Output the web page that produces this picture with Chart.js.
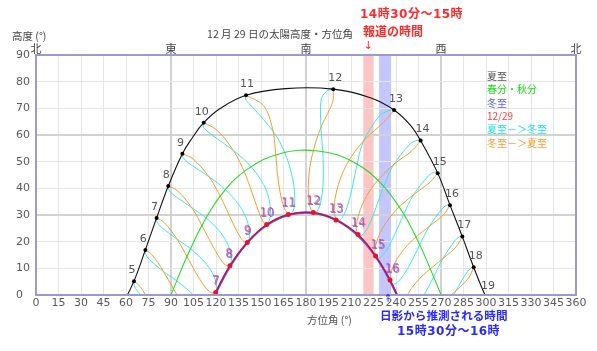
<!DOCTYPE html>
<html>
<head>
<meta charset="utf-8">
<script src="https://cdn.jsdelivr.net/npm/chart.js@4.4.1/dist/chart.umd.min.js"></script>
<style>
  body { margin: 0; background: #fff; }
</style>
</head>
<body>
<canvas id="sunChart" width="597" height="351"></canvas>
<script>
// 方位角 (°) / 高度 (°)

// 夏至 hourly points
const summerHours = [5, 6, 7, 8, 9, 10, 11, 12, 13, 14, 15, 16, 17, 18, 19];
const summerAz  = [65.3, 72.9, 80.4, 88.2, 97.6, 111.8, 140.0, 198.2, 238.7, 256.4, 267.8, 276.0, 284.2, 291.8, 300.0];
const summerAlt = [5.2, 16.9, 28.9, 40.9, 53.0, 64.6, 74.9, 77.2, 69.4, 57.9, 45.7, 33.7, 21.9, 10.4, -0.8];
// 夏至 path (hourly + half hours near noon)
const summerPath = [[56.1,-5.3],[65.3,5.2],[72.9,16.9],[80.4,28.9],[88.2,40.9],[97.6,53.0],[104.0,58.8],[111.8,64.6],[123.0,70.0],
  [140.0,74.9],[166.3,77.4],[198.2,77.2],[222.9,74.0],[238.7,69.4],[249.4,63.8],[256.4,57.9],[267.8,45.7],[276.0,33.7],
  [284.2,21.9],[291.8,10.4],[300.0,-0.8],[309.5,-10.8]];

// 春分・秋分
const equinoxPath = [[84.0,-8.4],[92.7,3.8],[101.8,15.9],[112.0,27.5],[124.5,38.3],[141.0,47.2],[162.7,53.0],[188.0,54.0],
  [211.5,49.9],[229.9,41.9],[243.7,31.7],[254.6,20.3],[263.9,8.4],[272.8,-3.8]];

// 冬至
const winterPath = [[112.0,-9.5],[120.5,1.4],[130.0,11.3],[141.2,19.9],[154.4,26.4],[169.5,30.2],[185.4,30.7],[200.9,27.9],
  [214.7,22.2],[226.6,14.3],[236.6,4.7],[245.4,-5.9]];

// 12/29
const dec29Hours = [7, 8, 9, 10, 11, 12, 13, 14, 15, 16];
const dec29Az  = [119.8, 129.3, 140.9, 153.8, 168.2, 184.9, 200.0, 214.7, 226.4, 236.0];
const dec29Alt = [0.9, 11.0, 19.7, 26.4, 30.2, 30.9, 28.1, 22.7, 14.6, 5.6];
const dec29Rise = [111.4, -9.8];
const dec29Set = [245.0, -5.2];

// 夏至->冬至 (same clock hour)
const toWinter5  = [[65.3,5.2],[65.4,3.6],[67.7,1.4],[77.2,-3.6]];
const toWinter6  = [[72.9,16.9],[73.1,15.4],[75.6,13.3],[85.7,8.5],[93.8,5.3],[102.0,1.6],[107.7,-1.7]];
const toWinter7  = [[80.4,28.9],[80.7,27.4],[83.6,25.4],[94.6,20.7],[103.0,17.4],[111.1,13.2],[116.4,9.4],[119.8,5.3],[120.5,2.7],[119.8,0.9]];
const toWinter8  = [[88.2,40.9],[88.6,39.4],[92.0,37.4],[104.3,32.6],[113.4,28.9],[121.8,24.3],[126.9,20.0],[129.9,15.5],[130.2,12.8],[129.3,11.0]];
const toWinter9  = [[97.6,53.0],[98.0,51.5],[101.9,49.4],[116.2,44.0],[126.3,39.5],[135.0,34.0],[139.9,29.1],[142.3,24.2],[142.2,21.3],[140.9,19.7]];
const toWinter10 = [[111.8,64.6],[111.6,63.0],[116.0,60.6],[132.5,53.8],[143.4,48.1],[151.7,41.5],[155.4,35.8],[156.4,30.6],[155.4,27.8],[153.8,26.4]];
const toWinter11 = [[140.0,74.9],[139.8,73.3],[144.4,70.4],[158.6,61.0],[165.8,53.5],[170.5,45.1],[172.3,38.9],[172.3,33.6],[171.0,31.1],[168.2,30.2]];
const toWinter12 = [[198.2,77.2],[193.7,76.4],[190.1,73.3],[190.0,62.3],[191.2,53.8],[191.6,44.9],[190.9,38.5],[189.2,33.5],[187.2,31.3],[184.9,30.9]];
const toWinter13 = [[238.7,69.4],[235.3,69.2],[228.8,67.1],[218.0,57.2],[214.1,49.0],[210.9,40.5],[208.2,34.4],[205.2,29.9],[202.7,28.1],[200.0,28.1]];
const toWinter14 = [[256.4,57.9],[254.6,58.1],[249.3,56.6],[237.6,48.1],[231.8,40.7],[226.7,32.8],[222.9,27.3],[219.1,23.4],[216.5,22.1],[214.7,22.7]];
const toWinter15 = [[267.8,45.7],[266.0,46.1],[261.8,44.8],[251.3,37.2],[245.2,30.3],[239.4,23.1],[235.1,18.1],[230.9,14.7],[228.2,13.9],[226.4,14.6]];
const toWinter16 = [[276.0,33.7],[274.7,33.9],[271.2,32.6],[261.8,25.3],[255.8,18.8],[249.9,12.1],[245.2,7.6],[240.9,4.7],[238.1,4.1],[236.0,5.6]];
const toWinter17 = [[284.2,21.9],[282.5,21.9],[279.4,20.5],[270.8,13.2],[265.1,6.8],[259.0,0.3],[254.2,-3.9]];
const toWinter18 = [[291.8,10.4],[290.3,10.2],[287.5,8.7],[279.5,1.1],[273.8,-5.3]];

// 冬至->夏至 (same clock hour)
const toSummer5  = [[76.1,-2.9],[69.5,3.1],[65.3,5.2]];
const toSummer6  = [[96.1,-2.0],[90.4,3.5],[84.6,9.2],[77.5,15.0],[72.9,16.9]];
const toSummer7  = [[119.8,0.9],[118.3,0.7],[115.7,1.2],[110.9,4.4],[105.0,9.9],[99.5,15.7],[93.4,21.5],[85.6,27.1],[80.4,28.9]];
const toSummer8  = [[129.3,11.0],[127.8,10.9],[125.3,11.7],[120.8,15.4],[115.0,21.3],[109.4,27.4],[103.0,33.4],[94.2,39.1],[88.2,40.9]];
const toSummer9  = [[140.9,19.7],[139.3,19.8],[136.9,21.1],[132.6,25.4],[127.2,31.9],[121.5,38.5],[114.7,44.8],[104.7,51.0],[97.6,53.0]];
const toSummer10 = [[153.8,26.4],[152.4,26.8],[150.4,28.5],[147.0,33.5],[142.6,40.7],[137.6,47.8],[131.0,54.7],[120.4,61.9],[111.8,64.6]];
const toSummer11 = [[168.2,30.2],[167.5,30.8],[165.4,32.8],[162.8,38.3],[160.8,46.3],[159.6,54.2],[157.7,62.4],[151.7,71.0],[140.0,74.9]];
const toSummer12 = [[184.9,30.9],[183.7,31.7],[182.2,34.1],[181.5,40.0],[182.6,48.1],[185.7,55.8],[190.5,63.6],[197.7,72.2],[198.2,77.2]];
const toSummer13 = [[200.0,28.1],[199.5,29.3],[198.8,31.8],[199.9,37.7],[204.0,45.2],[210.4,52.0],[219.4,58.4],[232.2,65.0],[238.7,69.4]];
const toSummer14 = [[214.7,22.7],[213.7,23.8],[213.7,26.4],[216.2,32.0],[222.0,38.6],[229.6,44.1],[239.1,49.2],[251.0,54.3],[256.4,57.9]];
const toSummer15 = [[226.4,14.6],[225.9,16.0],[226.4,18.6],[229.7,23.6],[236.2,29.3],[243.8,33.9],[252.6,38.0],[262.9,42.4],[267.8,45.7]];
const toSummer16 = [[236.0,5.6],[236.2,6.5],[237.0,9.0],[240.8,13.6],[247.5,18.6],[254.9,22.5],[263.0,26.1],[272.0,30.3],[276.0,33.7]];
const toSummer17 = [[245.1,-4.1],[246.2,-1.7],[250.3,2.5],[257.2,7.0],[264.4,10.5],[272.0,14.0],[280.2,18.1],[284.2,21.9]];
const toSummer18 = [[273.2,-1.7],[280.6,1.9],[288.4,6.4],[291.8,10.4]];

// time bands (azimuth)
const reportedBand = [218.2, 225.3];   // 14時30分～15時
const shadowBand = [228.7, 236.7];     // 15時30分～16時

// axis labels
const dirAz = [0, 90, 180, 270, 360];
const dirLabels = ['北', '東', '南', '西', '北'];
const legendLabels = ['夏至', '春分・秋分', '冬至', '12/29', '夏至－＞冬至', '冬至－＞夏至'];

const jp = '"Noto Sans CJK JP", sans-serif';
const num = '"DejaVu Sans", sans-serif';
const legendColors = ['#555555', '#11dd11', '#6060ff', '#ff4040', '#22e0e0', '#f0a030'];

const pts = arr => arr.map(([x, y]) => ({x, y}));
const curve = (arr, color, width, tension) => ({
  data: pts(arr), showLine: true, borderColor: color, borderWidth: width,
  pointRadius: 0, tension: tension, fill: false, clip: 0, xAxisID: 'x', yAxisID: 'y'
});

const toWinter = [toWinter5, toWinter6, toWinter7, toWinter8, toWinter9, toWinter10, toWinter11,
  toWinter12, toWinter13, toWinter14, toWinter15, toWinter16, toWinter17, toWinter18];
const toSummer = [toSummer5, toSummer6, toSummer7, toSummer8, toSummer9, toSummer10, toSummer11,
  toSummer12, toSummer13, toSummer14, toSummer15, toSummer16, toSummer17, toSummer18];

const summerPoints = summerAz.map((a, i) => [a, summerAlt[i]]);
const dec29Points = dec29Az.map((a, i) => [a, dec29Alt[i]]);

const datasets = [
  { data: pts(dec29Points), showLine: false, pointRadius: 2.5, pointBackgroundColor: '#e8102a', pointBorderWidth: 0, clip: 0, xAxisID: 'x', yAxisID: 'y' },
  curve([dec29Rise, ...dec29Points, dec29Set], '#c8103c', 1.5, 0.4),
  curve(winterPath, '#5a5aff', 2.2, 0.4),
  { data: pts(summerPoints), showLine: false, pointRadius: 2, pointBackgroundColor: '#000', pointBorderWidth: 0, clip: 0, xAxisID: 'x', yAxisID: 'y' },
  curve(summerPath, '#111', 1.1, 0.4),
  curve(equinoxPath, '#22dd22', 1.1, 0.4),
  ...toSummer.map(c => curve(c, '#f0a030', 1, 0.35)),
  ...toWinter.map(c => curve(c, '#40e6e6', 1, 0.35))
];

function txt(ctx, s, x, y, font, color, align) {
  ctx.font = font;
  ctx.fillStyle = color;
  ctx.textAlign = align || 'left';
  ctx.textBaseline = 'middle';
  ctx.fillText(s, x, y);
}

const overlay = {
  id: 'overlay',
  beforeDraw(chart) {
    const {ctx, chartArea: a, scales: {x}} = chart;
    ctx.save();
    ctx.fillStyle = '#fff';
    ctx.fillRect(0, 0, chart.width, chart.height);
    const r0 = x.getPixelForValue(reportedBand[0]), r1 = x.getPixelForValue(reportedBand[1]);
    const s0 = x.getPixelForValue(shadowBand[0]), s1 = x.getPixelForValue(shadowBand[1]);
    ctx.fillStyle = '#ffc4c4';
    ctx.fillRect(r0, a.top, r1 - r0, a.bottom - a.top);
    ctx.fillStyle = '#c6c6ff';
    ctx.fillRect(s0, a.top, s1 - s0, a.bottom - a.top);
    ctx.restore();
  },
  afterDatasetsDraw(chart) {
    const {ctx, chartArea: a, scales: {x, y}} = chart;
    ctx.save();
    // hour labels on summer path
    summerHours.forEach((h, i) => {
      const px = x.getPixelForValue(summerAz[i]), py = y.getPixelForValue(summerAlt[i]);
      const dx = h <= 10 ? -2 : (h === 11 ? 1 : 2);
      txt(ctx, String(h), px + dx, py - 11, '11px ' + num, '#555', 'center');
    });
    // hour labels on 12/29 path
    dec29Hours.forEach((h, i) => {
      const px = x.getPixelForValue(dec29Az[i]), py = y.getPixelForValue(dec29Alt[i]);
      const dx = h >= 15 ? 2 : (h === 8 ? -1 : 0);
      ctx.globalAlpha = 0.85;
      txt(ctx, String(h), px + dx + 0.8, py - 10.5, '11.5px ' + num, '#6a6aff', 'center');
      ctx.globalAlpha = 0.65;
      txt(ctx, String(h), px + dx, py - 11.2, '11.5px ' + num, '#e0306a', 'center');
      ctx.globalAlpha = 1;
    });
    // plot frame
    ctx.strokeStyle = '#9a9ad2';
    ctx.lineWidth = 2;
    ctx.strokeRect(a.left, a.top, a.right - a.left, a.bottom - a.top);
    ctx.restore();
  },
  afterDraw(chart) {
    const {ctx, scales: {x}} = chart;
    ctx.save();
    txt(ctx, '12 月 29 日の太陽高度・方位角', 280, 34, '10.5px ' + jp, '#444', 'center');
    txt(ctx, '高度 (°)', 12, 36, '10.5px ' + jp, '#444');
    txt(ctx, '方位角 (°)', 307, 320, '10.5px ' + jp, '#555');
    // legend
    legendLabels.forEach((s, i) => {
      txt(ctx, s, 487, 76 + i * 13.4, '10px ' + jp, legendColors[i]);
    });
    // annotations
    const bold = 'bold 12px "DejaVu Sans", "Noto Sans CJK JP", sans-serif';
    ctx.letterSpacing = '0.5px';
    txt(ctx, '14時30分～15時', 360, 15, bold, '#ff2a2a');
    txt(ctx, '15時30分～16時', 397, 332, bold, '#2a2aff');
    ctx.letterSpacing = '0px';
    txt(ctx, '報道の時間', 363, 31, 'bold 12px ' + jp, '#ff2a2a');
    txt(ctx, '日影から推測される時間', 380, 316, 'bold 11.6px ' + jp, '#2a2aff');
    txt(ctx, '↓', x.getPixelForValue(221.5), 46, '11px ' + num, '#ff2a2a', 'center');
    txt(ctx, '↑', 388, 299, '11px ' + num, '#2a2aff', 'center');
    ctx.restore();
  }
};

const isMajor = (c, step) => c.tick && Math.round(c.tick.value) % step === 0;

new Chart(document.getElementById('sunChart'), {
  type: 'scatter',
  data: { datasets },
  options: {
    responsive: false,
    animation: false,
    events: [],
    layout: { padding: { left: 16, right: 21, top: 0, bottom: 0 } },
    plugins: { legend: { display: false }, tooltip: { enabled: false } },
    scales: {
      x: {
        type: 'linear', position: 'bottom', min: 0, max: 360,
        ticks: { stepSize: 15, autoSkip: false, maxRotation: 0, minRotation: 0, padding: 2,
          color: '#5a5a5a', font: { family: 'DejaVu Sans', size: 11 } },
        grid: { drawTicks: false,
          color: c => isMajor(c, 90) ? '#d2d2d2' : '#e6e6e6',
          lineWidth: c => isMajor(c, 90) ? 2 : 1 },
        border: { display: false },
        afterFit: s => { s.height = 56; }
      },
      x2: {
        type: 'linear', position: 'top', min: 0, max: 360,
        ticks: { stepSize: 90, autoSkip: false, maxRotation: 0, minRotation: 0, padding: 0,
          color: '#444', font: { family: 'Noto Sans CJK JP', size: 11 },
          callback: v => { const i = dirAz.indexOf(v); return i >= 0 ? dirLabels[i] : ''; } },
        grid: { display: false, drawTicks: false },
        border: { display: false },
        afterFit: s => { s.height = 55; }
      },
      y: {
        min: 0, max: 90,
        ticks: { stepSize: 10, autoSkip: false, crossAlign: 'far', padding: 0,
          color: '#5a5a5a', font: { family: 'DejaVu Sans', size: 11 } },
        grid: { drawTicks: false,
          color: c => isMajor(c, 30) ? '#d2d2d2' : '#e6e6e6',
          lineWidth: c => isMajor(c, 30) ? 2 : 1 },
        border: { display: false },
        afterFit: s => { s.width = 20; }
      }
    }
  },
  plugins: [overlay]
});
</script>
</body>
</html>
